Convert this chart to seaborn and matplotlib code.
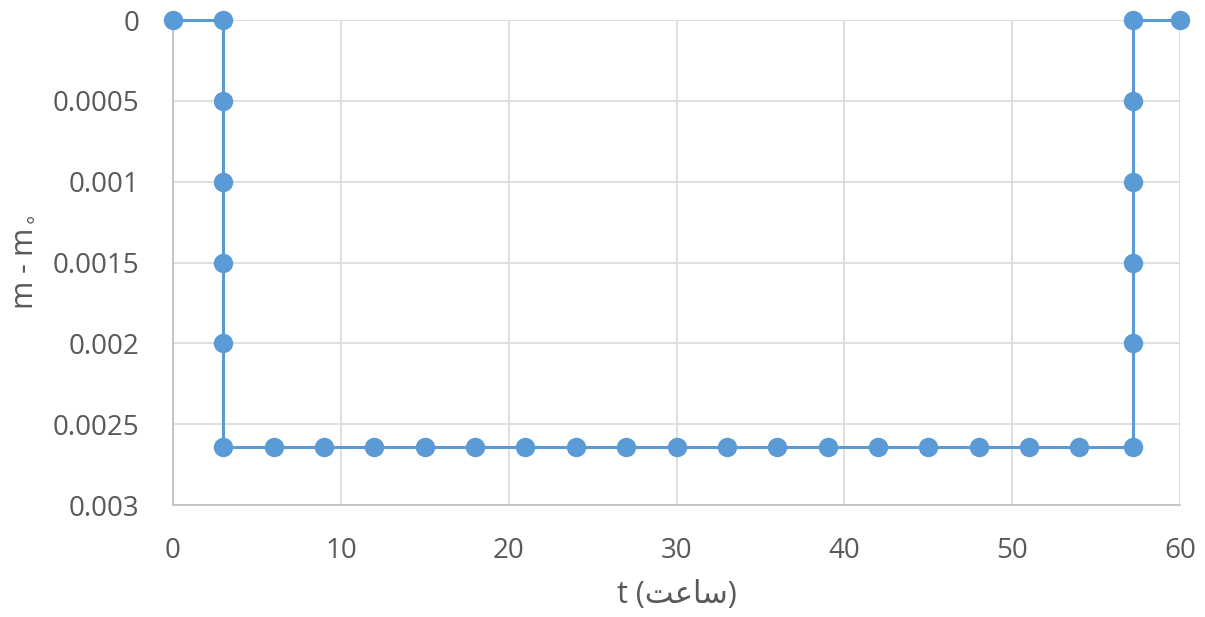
import matplotlib
matplotlib.use("Agg")
import matplotlib.pyplot as plt
import seaborn as sns
import pandas as pd

# dados
t_horas = [0, 3, 3, 3, 3, 3, 3,
           6, 9, 12, 15, 18, 21, 24, 27, 30, 33, 36, 39, 42, 45, 48, 51, 54,
           57.2, 57.2, 57.2, 57.2, 57.2, 57.2, 60]
delta_m = [0, 0, 0.0005, 0.001, 0.0015, 0.002, 0.00264,
           0.00264, 0.00264, 0.00264, 0.00264, 0.00264, 0.00264, 0.00264, 0.00264,
           0.00264, 0.00264, 0.00264, 0.00264, 0.00264, 0.00264, 0.00264, 0.00264, 0.00264,
           0.00264, 0.002, 0.0015, 0.001, 0.0005, 0, 0]
y_ticks = [0, 0.0005, 0.001, 0.0015, 0.002, 0.0025, 0.003]
y_labels = ["0", "0.0005", "0.001", "0.0015", "0.002", "0.0025", "0.003"]
x_ticks = [0, 10, 20, 30, 40, 50, 60]

df = pd.DataFrame({"t": t_horas, "dm": delta_m})

sns.set_style("white")
plt.rcParams['font.family'] = ['Open Sans', 'DejaVu Sans']

fig = plt.figure(figsize=(12.05, 6.17), dpi=100)
ax = fig.add_axes([0.1436, 0.1815, 0.8357, 0.786])

sns.lineplot(data=df, x="t", y="dm", sort=False, estimator=None,
             color="#5B9BD5", linewidth=2.2, marker="o", markersize=14,
             markeredgewidth=0, ax=ax, zorder=3, clip_on=False)

ax.set_xlim(0, 60)
ax.set_ylim(0.003, 0)
ax.set_xticks(x_ticks)
ax.set_yticks(y_ticks)
ax.set_yticklabels(y_labels)
ax.grid(True, color="#D9D9D9", linewidth=1.2)
for s in ["top", "right"]:
    ax.spines[s].set_visible(False)
for s in ["left", "bottom"]:
    ax.spines[s].set_color("#BFBFBF")
    ax.spines[s].set_linewidth(1.2)
ax.tick_params(axis="both", length=0, labelsize=20, labelcolor="#595959")
ax.tick_params(axis="y", pad=24)
ax.tick_params(axis="x", pad=23)

# "ساعت" em formas de apresentação, ordem visual
ax.set_xlabel("t (\uFE96\uFECB\uFE8E\uFEB3)", fontsize=22, color="#595959", labelpad=11)
ax.set_ylabel(r"m - m$_{\!\circ}$", fontsize=22, color="#595959", labelpad=11)

plt.savefig("out.png", dpi=100)
